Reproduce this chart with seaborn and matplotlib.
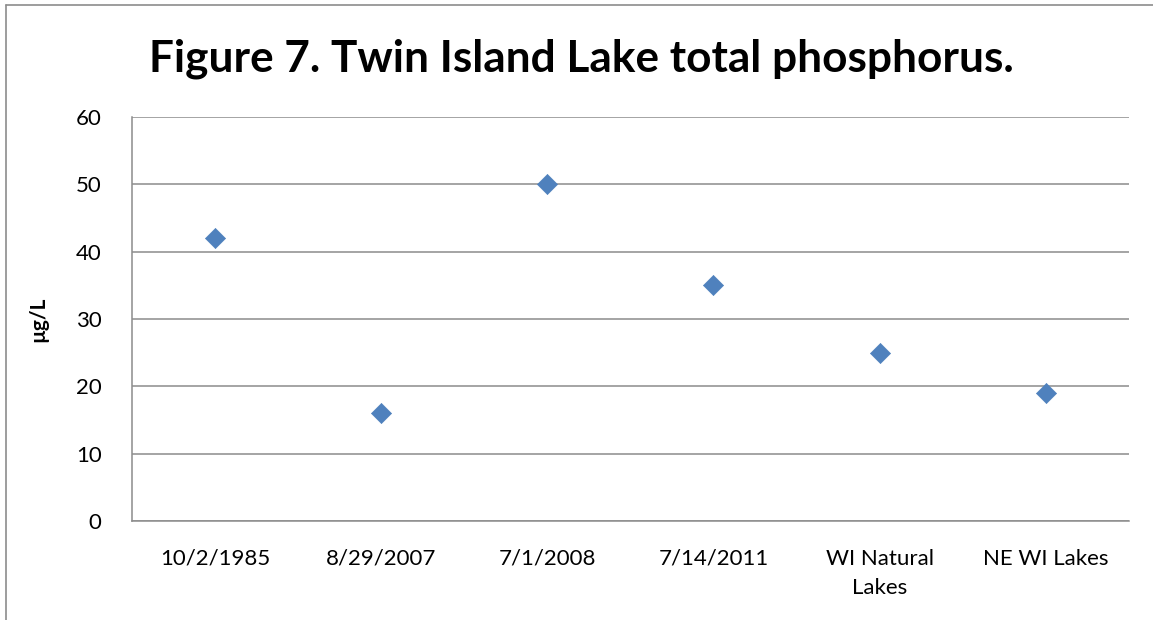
import matplotlib.pyplot as plt
import matplotlib.lines as mlines
import seaborn as sns
import pandas as pd

categories = ['10/2/1985', '8/29/2007', '7/1/2008', '7/14/2011', 'WI Natural\nLakes', 'NE WI Lakes']
phosphorus = [42, 16, 50, 35, 25, 19]
yticks = [0, 10, 20, 30, 40, 50, 60]

sns.set_theme(style='white')
plt.rcParams['font.family'] = ['Lato', 'DejaVu Sans']
plt.rcParams['text.color'] = 'black'

df = pd.DataFrame({'site': categories, 'tp': phosphorus})

fig = plt.figure(figsize=(11.53, 6.2), dpi=100)
ax = fig.add_axes([0.1145, 0.1597, 0.8645, 0.6516])

sns.scatterplot(data=df, x='site', y='tp', marker='D', s=105, color='#4F81BD',
                edgecolor='#4F81BD', linewidth=0.5, ax=ax, zorder=3)

ax.set_xlim(-0.5, len(categories) - 0.5)
ax.set_ylim(0, 60)
ax.set_yticks(yticks)
ax.yaxis.grid(True, color='#8C8C8C', linewidth=1.1)
ax.set_axisbelow(True)

for side in ['top', 'right']:
    ax.spines[side].set_visible(False)
for side in ['left', 'bottom']:
    ax.spines[side].set_color('#8C8C8C')
    ax.spines[side].set_linewidth(1.1)

ax.tick_params(axis='both', length=0, labelsize=16, colors='black')
ax.tick_params(axis='y', pad=22)
ax.tick_params(axis='x', pad=20)
for lbl in ax.get_xticklabels():
    lbl.set_linespacing(1.6)
ax.set_xlabel('')
ax.set_ylabel('µg/L', fontsize=15, fontweight='bold', labelpad=20, color='black')

fig.text(0.504, 0.905, 'Figure 7. Twin Island Lake total phosphorus.', ha='center', va='center',
         fontsize=31.8, fontweight='bold')

# chart border (cut off on right and bottom)
fig.add_artist(mlines.Line2D([6 / 1153, 6 / 1153], [0, 1 - 5 / 620], color='#8C8C8C', linewidth=1.2))
fig.add_artist(mlines.Line2D([6 / 1153, 1], [1 - 5 / 620, 1 - 5 / 620], color='#8C8C8C', linewidth=1.2))

fig.savefig('out.png', dpi=100, facecolor='white')
